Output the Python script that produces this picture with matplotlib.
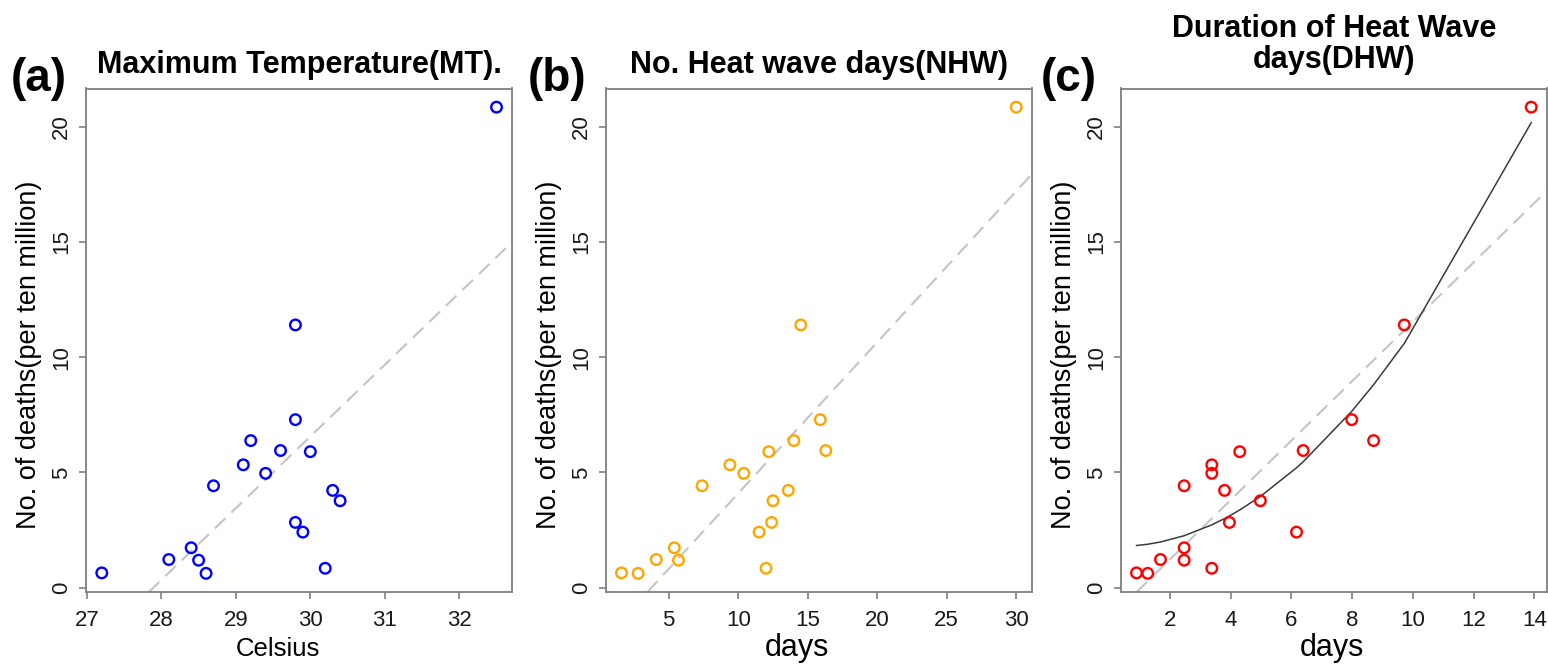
import numpy as np
import matplotlib
matplotlib.use('Agg')
import matplotlib.pyplot as plt

plt.rcParams['font.family'] = ['Liberation Sans', 'DejaVu Sans']

# deaths per ten million, one value per city (same order in every x list)
deaths = [0.64, 0.62, 1.22, 1.19, 1.73, 4.42, 5.33, 4.96, 2.41, 0.84,
          5.90, 2.83, 3.77, 4.22, 6.38, 11.40, 7.29, 5.95, 20.85]
mt_celsius = [27.2, 28.6, 28.1, 28.5, 28.4, 28.7, 29.1, 29.4, 29.9, 30.2,
              30.0, 29.8, 30.4, 30.3, 29.2, 29.8, 29.8, 29.6, 32.5]
nhw_days = [1.6, 2.8, 4.1, 5.7, 5.4, 7.4, 9.4, 10.4, 11.5, 12.0,
            12.2, 12.4, 12.5, 13.6, 14.0, 14.5, 15.9, 16.3, 30.0]
dhw_days = [0.9, 1.27, 1.69, 2.47, 2.47, 2.47, 3.38, 3.38, 6.17, 3.38,
            4.3, 3.96, 4.98, 3.8, 8.71, 9.72, 7.99, 6.39, 13.9]

titles = ['Maximum Temperature(MT).', 'No. Heat wave days(NHW)',
          'Duration of Heat Wave\ndays(DHW)']
xlabels = ['Celsius', 'days', 'days']
tags = ['(a)', '(b)', '(c)']
colors = ['blue', 'orange', 'red']
xticks = [[27, 28, 29, 30, 31, 32], [5, 10, 15, 20, 25, 30], [2, 4, 6, 8, 10, 12, 14]]
yticks = [0, 5, 10, 15, 20]
xdata = [mt_celsius, nhw_days, dhw_days]

W, H = 1548, 665
fig = plt.figure(figsize=(W / 100, H / 100), dpi=100)

lefts = [86, 605.7, 1120.7]
tag_x = [38.5, 557.5, 1068.5]
xlab_x = [0.450, 0.449, 0.496]
title_pad = [11, 11, 15]
ax_w, ax_top, ax_bot = 426.3, 88.5, 592


def r_lim(v):
    lo, hi = min(v), max(v)
    d = 0.04 * (hi - lo)
    return lo - d, hi + d


grey = '#7f7f7f'
for i in range(3):
    ax = fig.add_axes([lefts[i] / W, (H - ax_bot) / H, ax_w / W, (ax_bot - ax_top) / H])
    x = xdata[i]
    ax.scatter(x, deaths, s=58, facecolors='none', edgecolors=colors[i],
               linewidths=1.7, zorder=3)

    m, b = np.polyfit(x, deaths, 1)
    ax.axline((0, b), slope=m, color='#c4c4c4', lw=1.5, dashes=(7, 4), zorder=2)

    if i == 2:
        coef = np.polyfit(x, deaths, 2)
        xs = np.sort(x)
        ax.plot(xs, np.polyval(coef, xs), color='#3a3a3a', lw=1.1, zorder=2)

    ax.set_xlim(r_lim(x))
    ax.set_ylim(r_lim(deaths))
    ax.set_xticks(xticks[i])
    ax.set_yticks(yticks)
    ax.tick_params(axis='both', direction='out', length=5, width=1.2, color=grey,
                   labelcolor='#1a1a1a', labelsize=16)
    ax.tick_params(axis='x', pad=8)
    ax.tick_params(axis='y', pad=5)
    for lab in ax.get_yticklabels():
        lab.set_rotation(90)
        lab.set_va('center')
    for sp in ax.spines.values():
        sp.set_color(grey)
        sp.set_linewidth(1.3)

    ax.set_title(titles[i], fontsize=22, fontweight='bold', pad=title_pad[i],
                 linespacing=1.05)
    ax.set_xlabel(xlabels[i], fontsize=18.5 if i == 0 else 22, va='baseline')
    ax.xaxis.set_label_coords(xlab_x[i], -(656 - ax_bot) / (ax_bot - ax_top))
    ax.set_ylabel('No. of deaths(per ten million)', fontsize=19.5)
    ax.yaxis.set_label_coords(-0.103, 0.471)

    fig.text(tag_x[i] / W, (H - 91) / H, tags[i], fontsize=33, fontweight='bold',
             ha='center', va='baseline')

fig.savefig('out.png', dpi=100)
